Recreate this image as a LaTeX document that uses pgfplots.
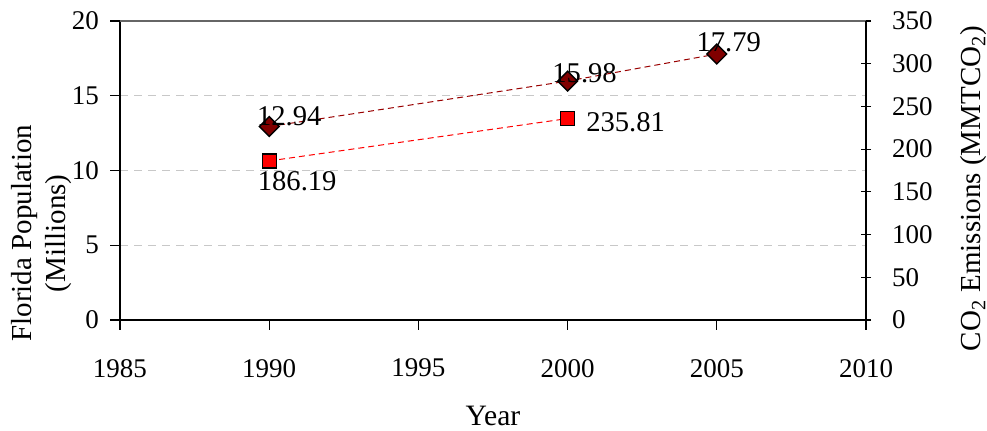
\documentclass[border=0pt]{standalone}
\usepackage{pgfplots}
\usepackage{pgfplotstable}
\usepackage{fontspec}
\setmainfont{Liberation Serif}
\pgfplotsset{compat=1.18}
\definecolor{darkred}{HTML}{800000}
\definecolor{trendred}{HTML}{990000}
\definecolor{gridgray}{HTML}{C8C8C8}

\pgfplotstableread{
year pop lab dx dy
1990 12.94 12.94 10 5
2000 15.98 15.98 8.5 4
2005 17.79 17.79 6 6
}\popdata

\pgfplotstableread{
year co2 lab dx dy
1990 186.19 186.19 14 -10
2000 235.81 235.81 29 -2
}\coodata

\begin{document}
\begin{tikzpicture}
\pgfplotsset{
  every axis/.append style={
    scale only axis, width=373pt, height=149.5pt,
    xmin=1985, xmax=2010,
    font=\fontsize{13.5}{16}\selectfont,
    /pgf/number format/assume math mode=true,
    /pgf/number format/1000 sep={},
    major tick length=5pt,
  },
}
\begin{axis}[
  name=ax,
  axis x line*=bottom, axis y line*=left,
  ymin=0, ymax=20,
  xtick={1985,1990,...,2010},
  ytick={0,5,...,20},
  tick align=outside,
  ymajorgrids,
  grid style={gridgray, dash pattern=on 4pt off 3pt, line width=0.6pt},
  axis line style={black, line width=0.6pt},
  tick style={black, line width=0.6pt},
  xticklabel style={yshift=-11pt},
  yticklabel style={xshift=-2pt},
  xlabel={Year},
  xlabel style={at={(rel axis cs:0.5,0)}, anchor=center, inner sep=0pt, yshift=-48pt, font=\fontsize{14.8}{17}\selectfont},
  ylabel style={at={(rel axis cs:0,0.29)}, anchor=center, rotate=0, yshift=39pt, align=center, font=\fontsize{14.5}{17}\selectfont},
  ylabel={Florida Population\\(Millions)},
  clip=false,
]
\addplot[trendred, line width=0.5pt, dash pattern=on 3pt off 2pt,
  mark=square*, mark size=3.5pt,
  mark options={solid, rotate=45, fill=darkred, draw=black, line width=0.7pt},
  point meta=explicit symbolic,
  visualization depends on={\thisrow{dx} \as \dx},
  visualization depends on={\thisrow{dy} \as \dy},
  nodes near coords,
  nodes near coords style={anchor=center, xshift=\dx pt, yshift=\dy pt, text=black, font=\fontsize{14.3}{16}\selectfont},
] table[x=year, y=pop, meta=lab] {\popdata};
\end{axis}
\begin{axis}[
  axis x line*=top, axis y line*=right,
  ymin=0, ymax=350,
  xtick=\empty,
  ytick={0,50,...,350},
  tick align=center,
  x axis line style={draw=gray!80!black, line width=0.6pt},
  y axis line style={black, line width=0.6pt},
  tick style={black, line width=0.6pt},
  yticklabel style={xshift=7pt},
  ylabel={CO\textsubscript{2} Emissions (MMTCO\textsubscript{2})},
  ylabel style={at={(rel axis cs:1,0.44)}, anchor=center, yshift=-54pt, font=\fontsize{14.5}{17}\selectfont},
  clip=false,
]
\addplot[red, line width=0.5pt, dash pattern=on 3pt off 2pt,
  mark=square*, mark size=3.5pt,
  mark options={solid, fill=red, draw=black, line width=0.7pt},
  point meta=explicit symbolic,
  visualization depends on={\thisrow{dx} \as \dx},
  visualization depends on={\thisrow{dy} \as \dy},
  nodes near coords,
  nodes near coords style={anchor=center, xshift=\dx pt, yshift=\dy pt, text=black, font=\fontsize{14.3}{16}\selectfont},
] table[x=year, y=co2, meta=lab] {\coodata};
\end{axis}
\pgfresetboundingbox
\path[use as bounding box] ([shift={(-60pt,-55.5pt)}]ax.south west) rectangle ([shift={(60.5pt,10.5pt)}]ax.north east);
\end{tikzpicture}
\end{document}
